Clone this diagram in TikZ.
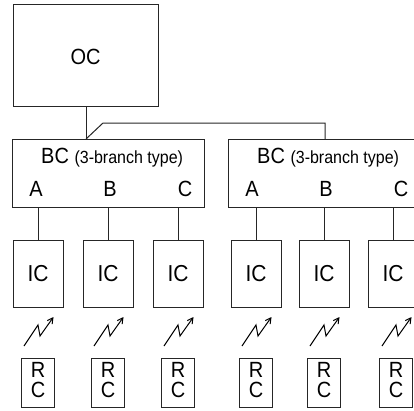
\documentclass[tikz,border=0pt]{standalone}
\usepackage{fontspec}
\usepackage{graphicx}
\setmainfont{Liberation Sans}
\usetikzlibrary{arrows.meta}
\newcommand{\tallt}[1]{\scalebox{1}[1.1]{#1}}
\tikzset{
  ln/.style={line width=1pt, draw=black!85},
  box/.style={ln, rectangle, inner sep=0pt, anchor=north west},
  lbl/.style={inner sep=0pt, font=\fontsize{20}{20}\selectfont},
  bolt/.style={line width=1pt, line join=miter, -{Straight Barb[length=5.5pt,width=6pt,line width=1pt]}},
}
\begin{document}
\begin{tikzpicture}[x=1pt,y=-1pt]
\useasboundingbox (0,0) rectangle (414,410);
\clip (0,0) rectangle (414,410);
% OC
\node[box, minimum width=145pt, minimum height=102pt] (oc) at (13,4) {};
\node[lbl] (octxt) at (85.5,57) {\tallt{OC}};
% BC boxes
\node[box, minimum width=192pt, minimum height=68pt] (bc1) at (12,139) {};
\node[box, minimum width=192pt, minimum height=68pt] (bc2) at (228,139) {};
\foreach \o/\n in {0/1,216/2}{
  \node[lbl, anchor=west] (bct\n) at (41+\o,158) {\tallt{BC \fontsize{16}{16}\selectfont(3-branch type)}};
  \node[lbl] (a\n) at (36+\o,189) {\tallt{A}};
  \node[lbl] (b\n) at (110+\o,189) {\tallt{B}};
  \node[lbl] (c\n) at (185+\o,189) {\tallt{C}};
}
% OC to BC connectors
\coordinate (kink) at (103,123);
\draw[ln] (oc.south) -- (oc.south |- bc1.north);
\draw[ln] (oc.south |- bc1.north) -- (kink) -- (kink -| 325,0) -- (325,139);
% IC and RC
\foreach \x/\r/\i in {38/38/1,108/108/2,178/178/3,256/256/4,324/324/5,393/396/6}{
  \node[box, anchor=north, minimum width=50pt, minimum height=67pt] (ic\i) at (\x,240) {};
  \node[lbl, font=\fontsize{21}{21}\selectfont] (ict\i) at (\x,274) {\tallt{IC}};
  \node[box, anchor=north, minimum width=33pt, minimum height=49pt] (rc\i) at (\r,358) {};
  \node[lbl, align=center, font=\fontsize{20}{20}\selectfont] (rct\i) at (\r,380) {\tallt{R}\\\tallt{C}};
  \draw[bolt] (\r-14,346) -- (\r,325) -- (\r+2,336) -- (\r+15.5,317);
}
% branch lines
\foreach \i/\b in {1/1,2/1,3/1,4/2,5/2,6/2}{
  \draw[ln] (ic\i.north) -- (ic\i.north |- bc\b.south);
}
\end{tikzpicture}
\end{document}
